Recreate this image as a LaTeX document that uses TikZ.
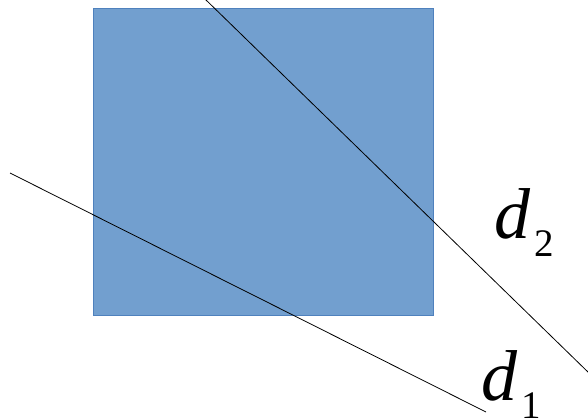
\documentclass[tikz,border=0pt]{standalone}
\usepackage{fontspec}
\setmainfont{Liberation Serif}
\definecolor{boxfill}{RGB}{114,159,207}
\definecolor{boxline}{RGB}{79,129,189}
\newcommand{\dlabel}[1]{\fontsize{72}{72}\selectfont\textit{d}\kern4pt\raisebox{-18pt}{\fontsize{39}{39}\selectfont #1}}
\begin{document}
\begin{tikzpicture}[x=1pt, y=-1pt, every node/.style={inner sep=0pt, anchor=base west}]
\useasboundingbox (0,0) rectangle (588,418);
% square
\filldraw[fill=boxfill, draw=boxline, line width=0.8pt] (93,8) rectangle (433,315);
% the two lines
\coordinate (d1start) at (10,173);
\coordinate (d1end) at (486,412);
\coordinate (d2start) at (205,-1);
\coordinate (d2end) at (589,373);
\draw[line width=0.8pt] (d1start) -- (d1end);
\draw[line width=0.8pt] (d2start) -- (d2end);
% labels
\node (labtwo) at (494,238) {\dlabel{2}};
\node (labone) at (481,400) {\dlabel{1}};
\end{tikzpicture}
\end{document}
